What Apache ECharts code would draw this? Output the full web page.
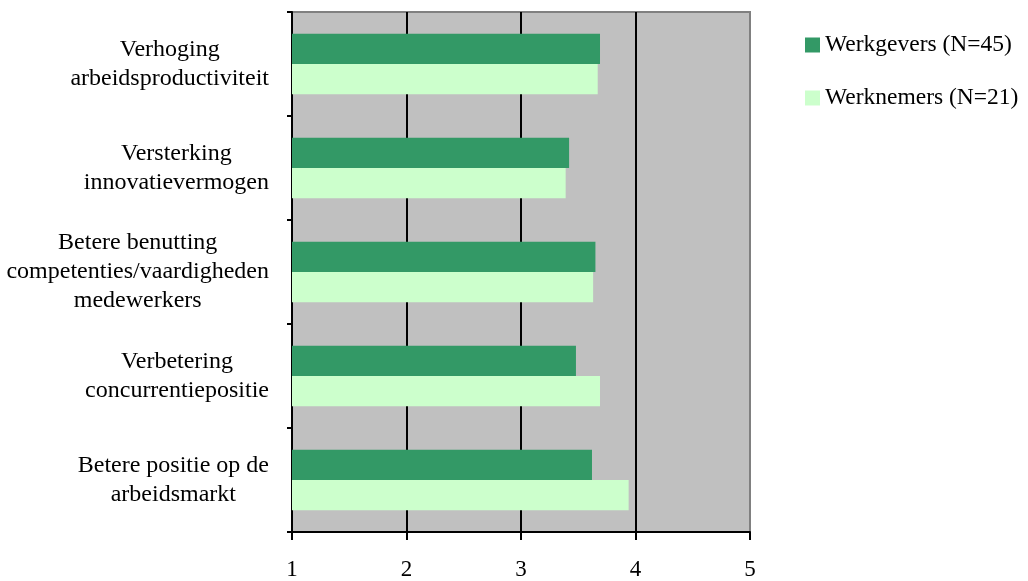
<!DOCTYPE html>
<html>
<head>
<meta charset="utf-8">
<script src="https://cdn.jsdelivr.net/npm/echarts@6/dist/echarts.min.js"></script>
<style>
  html, body { margin: 0; padding: 0; background: #ffffff; }
  #chart { width: 1028px; height: 581px; }
</style>
</head>
<body>
<div id="chart"></div>
<script>
// Effecten van het scholingsbeleid, gemiddelde score (1-5)
const categories = [
  'Verhoging\narbeidsproductiviteit',
  'Versterking\ninnovatievermogen',
  'Betere benutting\ncompetenties/vaardigheden\nmedewerkers',
  'Verbetering\nconcurrentiepositie',
  'Betere positie op de\narbeidsmarkt'
];
const seriesNames = ['Werkgevers (N=45)', 'Werknemers (N=21)'];
const werkgevers = [3.69, 3.42, 3.65, 3.48, 3.62];
const werknemers = [3.67, 3.39, 3.63, 3.69, 3.94];
const xTicks = [1, 2, 3, 4, 5];

const serif = '"Liberation Serif", "Times New Roman", serif';

const chart = echarts.init(document.getElementById('chart'));
chart.setOption({
  animation: false,
  backgroundColor: '#ffffff',
  textStyle: { fontFamily: serif, color: '#000' },
  legend: {
    orient: 'vertical',
    left: 800,
    top: 28,
    icon: 'rect',
    itemWidth: 15,
    itemHeight: 15,
    itemGap: 29,
    textStyle: { fontFamily: serif, fontSize: 23.5, color: '#000' },
    data: seriesNames
  },
  grid: {
    left: 292,
    right: 278,
    top: 12,
    bottom: 49,
    show: true,
    backgroundColor: '#c0c0c0',
    borderColor: '#808080',
    borderWidth: 2
  },
  xAxis: {
    type: 'value',
    min: xTicks[0],
    max: xTicks[xTicks.length - 1],
    interval: 1,
    axisLine: { show: true, lineStyle: { color: '#000', width: 2 } },
    axisTick: { show: true, inside: false, length: 8, lineStyle: { color: '#000', width: 2 } },
    axisLabel: {
      margin: 26,
      fontFamily: serif,
      fontSize: 23,
      color: '#000',
      formatter: v => String(v)
    },
    splitLine: {
      show: true,
      lineStyle: { color: ['#000', '#000', '#000', '#000', '#808080'], width: 2 }
    }
  },
  yAxis: {
    type: 'category',
    inverse: true,
    data: categories,
    axisLine: { show: true, lineStyle: { color: '#000', width: 2 } },
    axisTick: { show: true, length: 5, alignWithLabel: false, lineStyle: { color: '#000', width: 2 } },
    axisLabel: {
      margin: 23,
      align: 'right',
      formatter: v => v.split('\n').map(s => '{c|' + s + '}').join('\n'),
      rich: {
        c: {
          align: 'center',
          fontFamily: serif,
          fontSize: 24,
          lineHeight: 29,
          color: '#000'
        }
      }
    },
    splitLine: { show: false }
  },
  series: [
    {
      name: seriesNames[0],
      type: 'bar',
      data: werkgevers,
      barGap: '0%',
      barCategoryGap: '42%',
      itemStyle: { color: '#339966' }
    },
    {
      name: seriesNames[1],
      type: 'bar',
      data: werknemers,
      barGap: '0%',
      barCategoryGap: '42%',
      itemStyle: { color: '#ccffcc' }
    }
  ]
});
</script>
</body>
</html>
